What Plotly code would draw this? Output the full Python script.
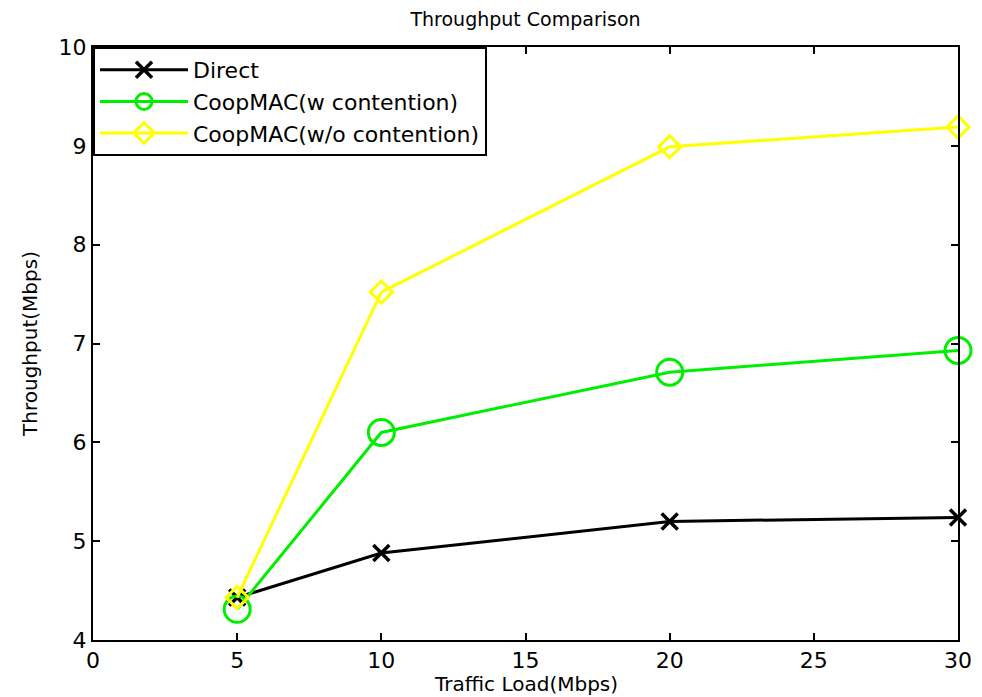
import plotly.graph_objects as go

traffic_load = [5, 10, 20, 30]
direct = [4.43, 4.88, 5.20, 5.24]
coop_w = [4.31, 6.10, 6.71, 6.93]
coop_wo = [4.43, 7.52, 8.99, 9.19]

x_ticks = [0, 5, 10, 15, 20, 25, 30]
y_ticks = [4, 5, 6, 7, 8, 9, 10]

FONT = "DejaVu Sans, Liberation Sans, Arial, sans-serif"

fig = go.Figure()
fig.add_trace(go.Scatter(
    x=traffic_load, y=direct, name="Direct", mode="lines+markers",
    line=dict(color="black", width=3),
    marker=dict(symbol="x-thin", size=16, color="black", line=dict(color="black", width=3.5)),
    cliponaxis=False))
fig.add_trace(go.Scatter(
    x=traffic_load, y=coop_w, name="CoopMAC(w contention)", mode="lines+markers",
    line=dict(color="#00ee00", width=3),
    marker=dict(symbol="circle-open", size=26, color="#00ee00", line=dict(color="#00ee00", width=3)),
    cliponaxis=False))
fig.add_trace(go.Scatter(
    x=traffic_load, y=coop_wo, name="CoopMAC(w/o contention)", mode="lines+markers",
    line=dict(color="#ffff00", width=3),
    marker=dict(symbol="diamond-open", size=17, color="#ffff00", line=dict(color="#ffff00", width=3)),
    cliponaxis=False))

axis_common = dict(
    showgrid=False, zeroline=False, showline=True, linecolor="black", linewidth=2,
    mirror="ticks", ticks="inside", ticklen=7, tickwidth=2, tickcolor="black",
    tickfont=dict(family=FONT, size=22, color="black"),
)

fig.update_layout(
    width=982, height=697,
    margin=dict(l=85, r=32, t=39, b=65, autoexpand=False),
    paper_bgcolor="white", plot_bgcolor="white",
    title=dict(text="Throughput Comparison", x=0.527, xanchor="center", y=0.984, yanchor="middle",
               font=dict(family=FONT, size=19, color="black")),
    xaxis=dict(range=[0, 30], tickvals=x_ticks, **axis_common),
    yaxis=dict(range=[4, 10], tickvals=y_ticks, title=dict(text="Throughput(Mbps)", standoff=16,
               font=dict(family=FONT, size=20, color="black")), **axis_common),
    legend=dict(x=0, y=1, xanchor="left", yanchor="top", bgcolor="white",
                bordercolor="black", borderwidth=2,
                font=dict(family=FONT, size=22, color="black"),
                tracegroupgap=0, itemwidth=88),
    showlegend=True,
    annotations=[dict(text="Traffic Load(Mbps)", xref="paper", yref="paper", x=0.5, y=0,
                      xanchor="center", yanchor="middle", yshift=-44, showarrow=False,
                      font=dict(family=FONT, size=20, color="black"))],
)

fig.write_html("out.html")
